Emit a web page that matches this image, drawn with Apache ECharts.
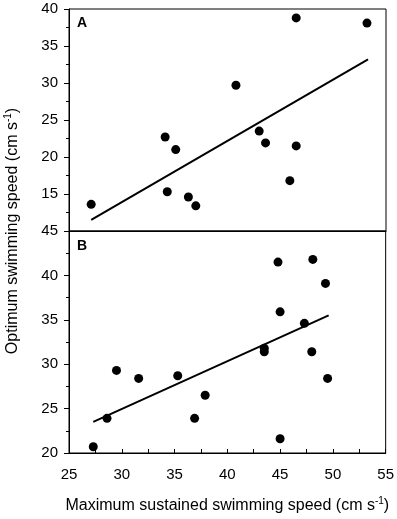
<!DOCTYPE html>
<html>
<head>
<meta charset="utf-8">
<script src="https://cdn.jsdelivr.net/npm/echarts@6/dist/echarts.min.js"></script>
<style>
  html, body { margin: 0; padding: 0; background: #fff; }
  #chart { width: 397px; height: 519px; }
</style>
</head>
<body>
<div id="chart"></div>
<script>
// panel A
var aX = [27.1, 34.1, 35.1, 34.3, 36.3, 37.0, 46.5, 53.2, 40.8, 43.0, 43.6, 46.5, 45.9]
var aY = [13.6, 22.7, 21.0, 15.3, 14.6, 13.4, 38.8, 38.1, 29.7, 23.5, 21.9, 21.5, 16.8]
var aFitX = [27.1, 53.3]
var aFitY = [11.5, 33.2]
// panel B
var bX = [27.3, 28.6, 29.5, 31.6, 35.3, 36.9, 37.9, 44.8, 48.1, 49.3, 45.0, 47.3, 43.5, 43.5, 48.0, 49.5, 45.0]
var bY = [20.7, 23.9, 29.3, 28.4, 28.7, 23.9, 26.5, 41.5, 41.8, 39.1, 35.9, 34.6, 31.8, 31.4, 31.4, 28.4, 21.6]
var bFitX = [27.3, 49.6]
var bFitY = [23.5, 35.5]
var xTicks = [25, 55, 5]
var aTicks = [10, 40, 5]
var bTicks = [20, 45, 5]

var font = 'Liberation Sans, Arial, sans-serif'

function pairs(xs, ys) {
    return xs.map(function (x, i) { return [x, ys[i]] })
}

function yAxisOf(idx, t, hideMin) {
    return {
        type: 'value', gridIndex: idx, min: t[0], max: t[1], interval: t[2],
        splitLine: { show: false },
        axisLine: { show: true, lineStyle: { color: '#000', width: 1 } },
        axisTick: { show: true, length: 5, lineStyle: { color: '#000' } },
        minorTick: { show: true, splitNumber: 2, length: 3, lineStyle: { color: '#000' } },
        axisLabel: {
            margin: 11, color: '#000', fontSize: 15, fontFamily: font,
            formatter: function (v) { return (hideMin && v === t[0]) ? '' : v }
        }
    }
}

var chart = echarts.init(document.getElementById('chart'))
var option = {
    animation: false,
    backgroundColor: '#fff',
    grid: [
        { left: 69, right: 11, top: 9, height: 222, show: true, borderColor: '#000', borderWidth: 1 },
        { left: 69, right: 11, top: 231, height: 222, show: true, borderColor: '#000', borderWidth: 1 }
    ],
    xAxis: [
        {
            type: 'value', gridIndex: 0, min: xTicks[0], max: xTicks[1], interval: xTicks[2],
            splitLine: { show: false },
            axisLine: { show: true, lineStyle: { color: '#000' } },
            axisTick: { show: false },
            axisLabel: { show: false }
        },
        {
            type: 'value', gridIndex: 1, min: xTicks[0], max: xTicks[1], interval: xTicks[2],
            splitLine: { show: false },
            axisLine: { show: true, lineStyle: { color: '#000' } },
            axisTick: { show: true, inside: true, length: 4, lineStyle: { color: '#000' } },
            minorTick: { show: true, splitNumber: 2, length: 4, lineStyle: { color: '#000' } },
            axisLabel: { margin: 14, color: '#000', fontSize: 15, fontFamily: font },
            name: '{a|Maximum sustained swimming speed (cm s}{s|-1}{a|)}',
            nameLocation: 'middle',
            nameGap: 43,
            nameTextStyle: {
                rich: {
                    a: { fontSize: 16, color: '#000', fontFamily: font },
                    s: { fontSize: 10, color: '#000', fontFamily: font, padding: [0, 0, 10, 0] }
                }
            }
        }
    ],
    yAxis: [yAxisOf(0, aTicks, true), yAxisOf(1, bTicks, false)],
    graphic: [
        {
            type: 'text', x: 13, y: 231, rotation: Math.PI / 2,
            style: {
                text: '{a|Optimum swimming speed (cm s}{s|-1}{a|)}',
                align: 'center', verticalAlign: 'middle',
                rich: {
                    a: { fontSize: 16, fill: '#000', fontFamily: font },
                    s: { fontSize: 10, fill: '#000', fontFamily: font, padding: [0, 0, 10, 0] }
                }
            }
        },
        { type: 'text', x: 77, y: 16, style: { text: 'A', font: 'bold 14px ' + font, fill: '#000' } },
        { type: 'text', x: 77, y: 239, style: { text: 'B', font: 'bold 14px ' + font, fill: '#000' } }
    ],
    series: [
        {
            type: 'scatter', xAxisIndex: 0, yAxisIndex: 0, data: pairs(aX, aY),
            symbolSize: 9, itemStyle: { color: '#000', opacity: 1 }
        },
        {
            type: 'line', xAxisIndex: 0, yAxisIndex: 0, data: pairs(aFitX, aFitY),
            showSymbol: false, lineStyle: { color: '#000', width: 2 }
        },
        {
            type: 'scatter', xAxisIndex: 1, yAxisIndex: 1, data: pairs(bX, bY),
            symbolSize: 9, itemStyle: { color: '#000', opacity: 1 }
        },
        {
            type: 'line', xAxisIndex: 1, yAxisIndex: 1, data: pairs(bFitX, bFitY),
            showSymbol: false, lineStyle: { color: '#000', width: 2 }
        }
    ]
}
chart.setOption(option)
</script>
</body>
</html>
